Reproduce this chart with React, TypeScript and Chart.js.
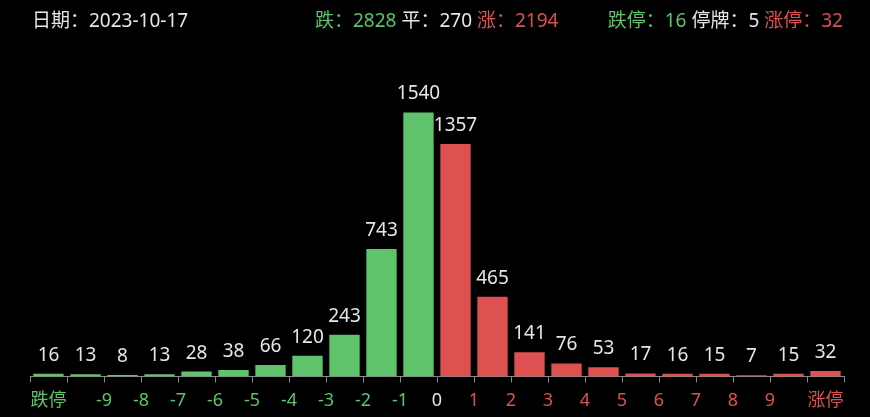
import React, { useEffect, useRef } from "react";
import { Chart, registerables } from "chart.js";

Chart.register(...registerables);

// 22 buckets: 跌停, (-10,-9], ..., (-1,0], (0,1], ..., (9,10), 涨停
const counts = [16, 13, 8, 13, 28, 38, 66, 120, 243, 743, 1540, 1357, 465, 141, 76, 53, 17, 16, 15, 7, 15, 32];
const barColors = counts.map((_, i) => (i < 11 ? "#5fc36b" : "#dd5151"));

// labels placed on the boundary ticks (value = position on 0..22 axis)
const tickValues = [0.5, 2, 3, 4, 5, 6, 7, 8, 9, 10, 11, 12, 13, 14, 15, 16, 17, 18, 19, 20, 21.5];
const tickLabels = ["跌停", "-9", "-8", "-7", "-6", "-5", "-4", "-3", "-2", "-1", "0", "1", "2", "3", "4", "5", "6", "7", "8", "9", "涨停"];

const GREEN = "#5fc36b";
const RED = "#dd5151";
const WHITE = "#e6e6e6";
const FONT = "'Noto Sans', 'Noto Sans CJK SC', sans-serif";

const valueLabels = {
    id: "valueLabels",
    afterDatasetsDraw(chart: Chart) {
        const ctx = chart.ctx;
        const meta = chart.getDatasetMeta(0);
        ctx.save();
        ctx.fillStyle = WHITE;
        ctx.font = `19px ${FONT}`;
        ctx.textAlign = "center";
        ctx.textBaseline = "bottom";
        meta.data.forEach((bar: any, i: number) => {
            ctx.fillText(String(counts[i]), bar.x, bar.y - 9);
        });
        ctx.restore();
    },
};

export default function App() {
    const canvasRef = useRef<HTMLCanvasElement | null>(null);
    const chartRef = useRef<Chart | null>(null);

    useEffect(() => {
        if (!canvasRef.current) return;
        if (chartRef.current) chartRef.current.destroy();

        chartRef.current = new Chart(canvasRef.current, {
            type: "bar",
            data: {
                labels: counts.map((_, i) => String(i)),
                datasets: [
                    {
                        data: counts,
                        backgroundColor: barColors,
                        barPercentage: 0.82,
                        categoryPercentage: 1,
                    },
                ],
            },
            options: {
                animation: false,
                responsive: false,
                layout: { padding: { left: 30, right: 26, top: 68, bottom: 5 } },
                plugins: {
                    legend: { display: false },
                    tooltip: { enabled: false },
                },
                scales: {
                    x: {
                        offset: true,
                        border: { color: "#8a8a8a", width: 1 },
                        grid: {
                            offset: true,
                            drawOnChartArea: false,
                            drawTicks: true,
                            tickLength: 6,
                            color: "#8a8a8a",
                        },
                        ticks: { display: false },
                    },
                    x2: {
                        type: "linear",
                        position: "bottom",
                        offset: false,
                        min: 0,
                        max: 22,
                        grid: { display: false, offset: false },
                        border: { display: false },
                        afterBuildTicks: (axis: any) => {
                            axis.ticks = tickValues.map((v) => ({ value: v }));
                        },
                        ticks: {
                            autoSkip: false,
                            maxRotation: 0,
                            padding: 0,
                            font: { size: 18, family: FONT },
                            color: (c: any) => {
                                const v = c.tick.value;
                                if (v < 11) return GREEN;
                                if (v > 11) return RED;
                                return WHITE;
                            },
                            callback: (value: any) => {
                                const idx = tickValues.indexOf(Number(value));
                                return idx >= 0 ? tickLabels[idx] : "";
                            },
                        },
                    },
                    y: {
                        display: false,
                        min: 0,
                        max: 1800,
                    },
                },
            },
            plugins: [valueLabels],
        });

        return () => {
            chartRef.current?.destroy();
            chartRef.current = null;
        };
    }, []);

    const span = (text: string, color: string) => <span style={{ color }}>{text}</span>;

    return (
        <div
            style={{
                position: "fixed",
                left: 0,
                top: 0,
                width: 870,
                height: 417,
                background: "#000",
                fontFamily: FONT,
                fontSize: 19,
                lineHeight: "24px",
                overflow: "hidden",
            }}
        >
            <canvas ref={canvasRef} width={870} height={417} style={{ position: "absolute", left: 0, top: 0 }} />
            <div style={{ position: "absolute", left: 32, top: 8, color: WHITE }}>日期：2023-10-17</div>
            <div style={{ position: "absolute", left: 315, top: 8, whiteSpace: "pre" }}>
                {span("跌：2828", GREEN)} {span("平：270", WHITE)} {span("涨：2194", RED)}
            </div>
            <div style={{ position: "absolute", right: 27, top: 8, whiteSpace: "pre" }}>
                {span("跌停：16", GREEN)} {span("停牌：5", WHITE)} {span("涨停：32", RED)}
            </div>
        </div>
    );
}
